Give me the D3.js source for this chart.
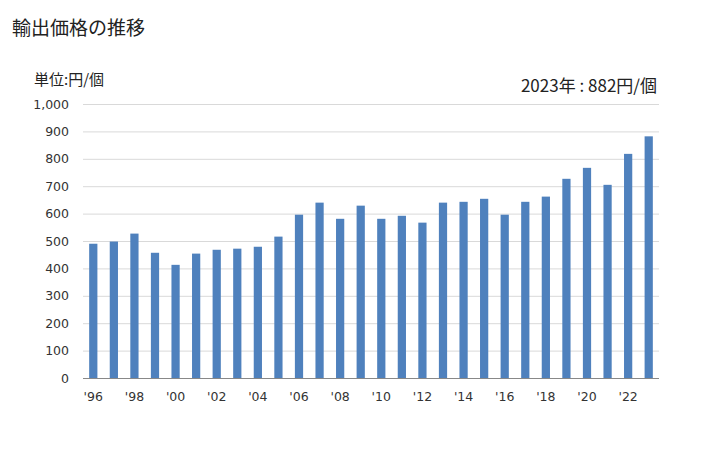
<!DOCTYPE html>
<html>
<head>
<meta charset="utf-8">
<script src="https://cdn.jsdelivr.net/npm/d3@7"></script>
<style>
  body { margin: 0; background: #fff; }
  text { font-family: "DejaVu Sans", Verdana, sans-serif; }
  .jp { font-family: "Noto Sans CJK JP", sans-serif; }
</style>
</head>
<body>
<div id="chart"></div>
<script>
// data
const years = d3.range(1996, 2024)
const values = [490, 498, 527, 457, 413, 454, 468, 472, 479, 516,
                596, 640, 581, 629, 581, 592, 567, 640, 643, 654,
                596, 643, 662, 727, 767, 705, 818, 882]
const yTicks = [0, 100, 200, 300, 400, 500, 600, 700, 800, 900, 1000]

const width = 728, height = 450
const margin = { top: 104, right: 69, bottom: 72, left: 83 }

const svg = d3.select("#chart")
  .append("svg")
    .attr("width", width)
    .attr("height", height)

// titles
svg.append("text").attr("class", "jp")
  .attr("x", 12).attr("y", 35)
  .attr("font-size", 19).attr("fill", "#222")
  .text("輸出価格の推移")

svg.append("text").attr("class", "jp")
  .attr("x", 34).attr("y", 85)
  .attr("font-size", 15).attr("fill", "#222")
  .text("単位:円/個")

svg.append("text").attr("class", "jp")
  .attr("x", 657).attr("y", 92)
  .attr("text-anchor", "end")
  .attr("font-size", 17).attr("fill", "#222")
  .text("2023年 : 882円/個")

const x = d3.scaleBand()
  .domain(years)
  .range([margin.left, width - margin.right])
  .paddingInner(0.6)
  .paddingOuter(0.3)

const y = d3.scaleLinear()
  .domain([0, 1000])
  .range([height - margin.bottom, margin.top])

// grid lines
svg.append("g")
  .selectAll("line")
  .data(yTicks.filter(d => d > 0))
  .join("line")
    .attr("x1", margin.left)
    .attr("x2", width - margin.right)
    .attr("y1", d => y(d) + 0.5)
    .attr("y2", d => y(d) + 0.5)
    .attr("stroke", "#d9d9d9")

// y axis labels
const yAxis = svg.append("g")
  .attr("transform", `translate(${margin.left},0)`)
  .call(d3.axisLeft(y).tickValues(yTicks).tickSize(0).tickPadding(14)
    .tickFormat(d3.format(",")))
yAxis.select(".domain").remove()
yAxis.selectAll("text").attr("font-size", 12.5).attr("fill", "#333")
  .attr("font-family", "DejaVu Sans, Verdana, sans-serif")

// bars
svg.append("g")
  .selectAll("rect")
  .data(values)
  .join("rect")
    .attr("x", (d, i) => x(years[i]))
    .attr("width", x.bandwidth())
    .attr("y", d => y(d))
    .attr("height", d => y(0) - y(d))
    .attr("fill", "#4f81bd")

// x axis
const xAxis = svg.append("g")
  .attr("transform", `translate(0,${y(0)})`)
  .call(d3.axisBottom(x)
    .tickValues(years.filter(d => d % 2 === 0))
    .tickSize(0).tickPadding(14)
    .tickFormat(d => "'" + String(d).slice(2)))
xAxis.select(".domain").attr("stroke", "#888")
  .attr("d", `M${margin.left},0.5H${width - margin.right}`)
xAxis.selectAll("text").attr("font-size", 12.5).attr("fill", "#333")
  .attr("font-family", "DejaVu Sans, Verdana, sans-serif")
</script>
</body>
</html>
